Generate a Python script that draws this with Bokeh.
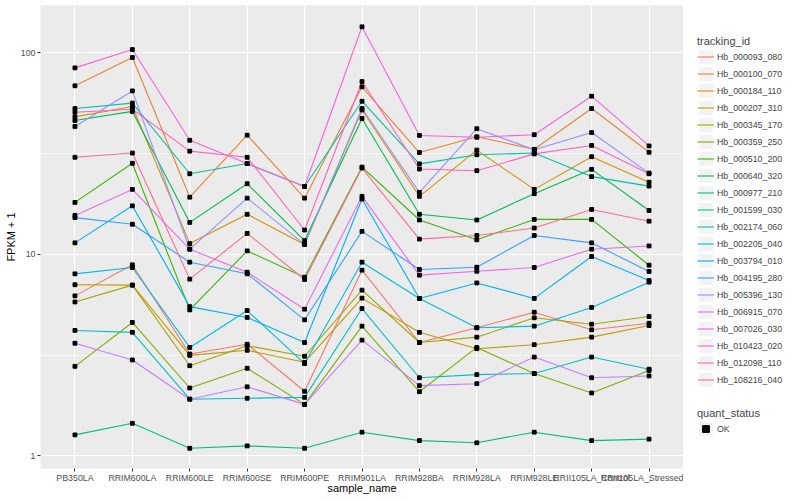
from bokeh.plotting import figure
from bokeh.layouts import row
from bokeh.models import (FactorRange, Range1d, FixedTicker, Legend, LegendItem,
                          NumeralTickFormatter, ColumnDataSource)
from bokeh.embed import file_html
from bokeh.resources import INLINE

samples = ["PB350LA", "RRIM600LA", "RRIM600LE", "RRIM600SE", "RRIM600PE", "RRIM901LA",
           "RRIM928BA", "RRIM928LA", "RRIM928LE", "RRII105LA_Control", "RRII105LA_Stressed"]

tracking_ids = ["Hb_000093_080", "Hb_000100_070", "Hb_000184_110", "Hb_000207_310",
                "Hb_000345_170", "Hb_000359_250", "Hb_000510_200", "Hb_000640_320",
                "Hb_000977_210", "Hb_001599_030", "Hb_002174_060", "Hb_002205_040",
                "Hb_003794_010", "Hb_004195_280", "Hb_005396_130", "Hb_006915_070",
                "Hb_007026_030", "Hb_010423_020", "Hb_012098_110", "Hb_108216_040"]

colors = ["#F8766D", "#EA8331", "#D89000", "#C09B00", "#A3A500", "#7CAE00", "#39B600",
          "#00BB4E", "#00BF7D", "#00C1A3", "#00BFC4", "#00BAE0", "#00B0F6", "#35A2FF",
          "#9590FF", "#C77CFF", "#E76BF3", "#FA62DB", "#FF62BC", "#FF6C91"]

# FPKM + 1 per sample (order of `samples`)
hb_000093_080 = [6.22, 8.87, 3.2, 3.58, 2.09, 8.34, 3.65, 4.32, 5.16, 4.22, 4.55]
hb_000100_070 = [68.6, 94.8, 19.2, 39.0, 19.0, 67.8, 32.0, 38.3, 33.2, 52.9, 32.1]
hb_000184_110 = [48.1, 54.1, 11.3, 15.8, 11.2, 52.0, 19.4, 32.9, 21.0, 30.5, 22.8]
hb_000207_310 = [7.06, 7.03, 3.15, 3.34, 2.91, 6.06, 4.10, 3.40, 3.56, 3.88, 4.43]
hb_000345_170 = [5.80, 7.03, 2.80, 3.52, 3.12, 6.64, 3.65, 3.88, 4.84, 4.50, 4.91]
hb_000359_250 = [2.78, 4.59, 2.17, 2.72, 1.80, 4.40, 2.08, 3.45, 2.56, 2.05, 2.65]
hb_000510_200 = [18.1, 28.3, 5.3, 10.4, 7.7, 27.1, 14.8, 11.8, 14.9, 14.9, 8.83]
hb_000640_320 = [46.1, 51.2, 14.4, 22.4, 11.7, 47.2, 15.8, 14.8, 20.0, 26.4, 16.5]
hb_000977_210 = [1.27, 1.45, 1.09, 1.12, 1.09, 1.31, 1.19, 1.16, 1.31, 1.19, 1.21]
hb_001599_030 = [52.9, 56.3, 25.1, 28.2, 21.7, 57.5, 28.1, 31.2, 31.8, 24.3, 21.8]
hb_002174_060 = [4.19, 4.10, 1.91, 1.93, 1.95, 5.38, 2.44, 2.53, 2.56, 3.09, 2.69]
hb_002205_040 = [8.0, 8.6, 3.45, 5.26, 2.87, 9.14, 6.04, 4.32, 4.40, 5.45, 7.27]
hb_003794_010 = [11.4, 17.4, 5.5, 4.86, 3.65, 18.8, 6.04, 7.21, 6.04, 9.75, 7.41]
hb_004195_280 = [15.2, 14.1, 9.14, 8.0, 4.73, 13.0, 8.41, 8.63, 12.4, 11.4, 8.22]
hb_005396_130 = [43.1, 64.7, 10.6, 19.0, 11.2, 52.9, 20.3, 42.0, 33.0, 40.2, 25.3]
hb_006915_070 = [3.62, 2.99, 1.91, 2.20, 1.80, 3.75, 2.23, 2.28, 3.09, 2.44, 2.49]
hb_007026_030 = [15.6, 21.0, 10.6, 8.15, 5.34, 19.4, 7.88, 8.24, 8.60, 10.6, 11.0]
hb_010423_020 = [84.2, 103.8, 36.8, 28.2, 21.7, 134.6, 38.9, 38.1, 39.2, 60.9, 34.5]
hb_012098_110 = [50.7, 52.5, 32.5, 30.3, 13.2, 72.0, 26.5, 26.0, 31.5, 34.7, 25.1]
hb_108216_040 = [30.3, 31.8, 7.53, 12.7, 7.5, 26.8, 11.9, 12.4, 13.5, 16.7, 14.6]

series = [hb_000093_080, hb_000100_070, hb_000184_110, hb_000207_310, hb_000345_170,
          hb_000359_250, hb_000510_200, hb_000640_320, hb_000977_210, hb_001599_030,
          hb_002174_060, hb_002205_040, hb_003794_010, hb_004195_280, hb_005396_130,
          hb_006915_070, hb_007026_030, hb_010423_020, hb_012098_110, hb_108216_040]

quant_status = ["OK"]
y_ticks = [1, 10, 100]

FONT = "Liberation Sans"

p = figure(width=683, height=500,
           x_range=FactorRange(factors=samples, range_padding=0.2 / 11),
           y_range=Range1d(0.865, 171.7), y_axis_type="log",
           output_backend="svg", toolbar_location=None,
           min_border_left=40, min_border_right=0, min_border_top=5, min_border_bottom=32,
           background_fill_color="#EBEBEB", border_fill_color="white",
           outline_line_color=None)

ticker = FixedTicker(ticks=y_ticks, minor_ticks=[10 ** 0.5, 10 ** 1.5])
p.yaxis.ticker = ticker
p.ygrid.ticker = ticker
p.yaxis.formatter = NumeralTickFormatter(format="0")

for g in (p.xgrid, p.ygrid):
    g.grid_line_color = "white"
    g.grid_line_width = 1.1
p.ygrid.minor_grid_line_color = "white"
p.ygrid.minor_grid_line_width = 0.55

for ax in (p.xaxis, p.yaxis):
    ax.axis_line_color = None
    ax.major_tick_line_color = "#333333"
    ax.major_tick_in = 0
    ax.major_tick_out = 3
    ax.minor_tick_line_color = None
    ax.major_label_text_font = FONT
    ax.major_label_text_font_size = "8.8px"
    ax.major_label_text_color = "#4D4D4D"
    ax.major_label_standoff = 1
    ax.axis_label_text_font = FONT
    ax.axis_label_text_font_size = "11px"
    ax.axis_label_text_font_style = "normal"
    ax.axis_label_text_color = "black"
    ax.axis_label_standoff = 0
p.xaxis.axis_label_standoff = -4
p.yaxis.major_label_standoff = 1
p.yaxis.axis_label_standoff = 1
p.xaxis.axis_label = "sample_name"
p.yaxis.axis_label = "FPKM + 1"

for col, vals in zip(colors, series):
    p.line(x=samples, y=vals, line_color=col, line_width=1.1)

xs, ys = [], []
for vals in series:
    xs.extend(samples)
    ys.extend(vals)
src = ColumnDataSource(data=dict(x=xs, y=ys))
p.scatter(x="x", y="y", source=src, marker="square", size=3.8,
          fill_color="black", line_color="black")

# legend panel (proxy renderers sit outside the visible range; only their legend keys show)
lp = figure(width=117, height=500, x_range=Range1d(0, 1), y_range=Range1d(0, 1),
            x_axis_type=None, y_axis_type=None, output_backend="svg",
            toolbar_location=None, min_border_left=0, min_border_right=0,
            min_border_top=0, min_border_bottom=0, outline_line_color=None,
            background_fill_color="white", border_fill_color="white")
lp.xgrid.visible = False
lp.ygrid.visible = False

items = []
for name, col in zip(tracking_ids, colors):
    bg = lp.rect(x=[5], y=[5], width=1, height=1, fill_color="#F2F2F2", line_color=None)
    ln = lp.line(x=[5, 6], y=[5, 6], line_color=col, line_width=1.1)
    items.append(LegendItem(label=name, renderers=[bg, ln]))
bg2 = lp.rect(x=[5], y=[5], width=1, height=1, fill_color="#F2F2F2", line_color=None)
pt2 = lp.scatter(x=[5], y=[5], marker="square", size=3.8, fill_color="black",
                 line_color="black")

leg_kw = dict(border_line_color=None, background_fill_alpha=0, padding=0, margin=0,
              spacing=0, glyph_width=17, glyph_height=17, label_height=17,
              label_standoff=3, label_text_font=FONT, label_text_font_size="8.8px",
              title_text_font=FONT, title_text_font_size="11px",
              title_text_font_style="normal", title_standoff=1)

leg1 = Legend(items=items, title="tracking_id", location=(14, 80), **leg_kw)
leg2 = Legend(items=[LegendItem(label=quant_status[0], renderers=[bg2, pt2])],
              title="quant_status", location=(14, 31), **leg_kw)
lp.add_layout(leg1, "center")
lp.add_layout(leg2, "center")

layout = row(p, lp)
open("out.html", "w").write(file_html(layout, INLINE))
